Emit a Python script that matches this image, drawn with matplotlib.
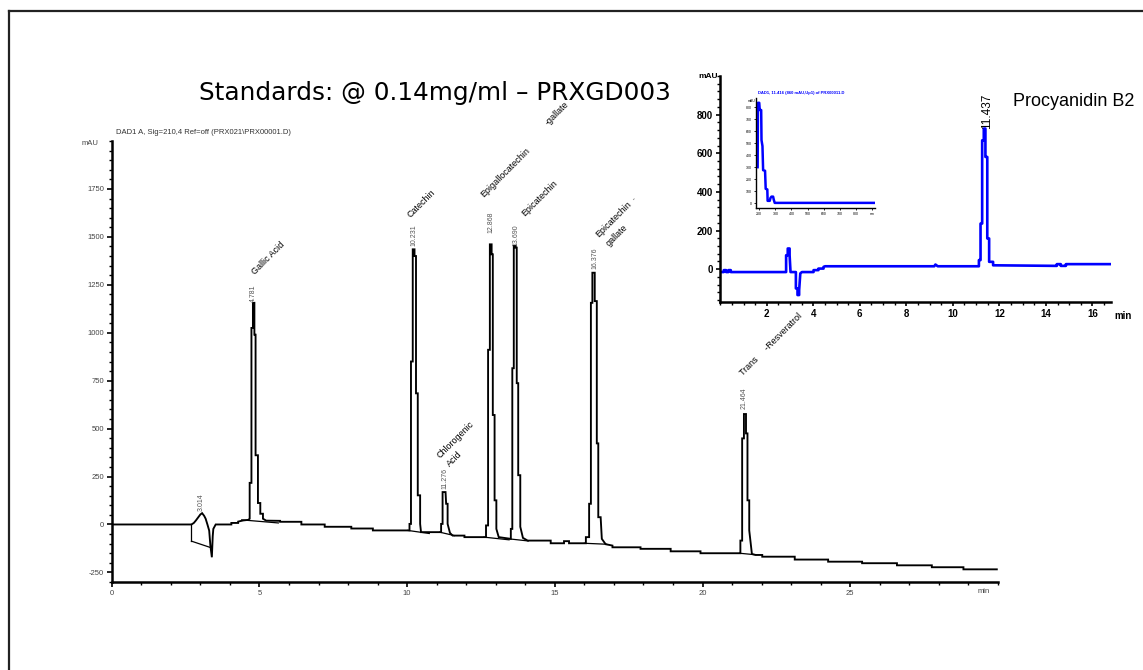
import matplotlib
matplotlib.use('Agg')
import matplotlib.pyplot as plt
from matplotlib.ticker import MultipleLocator, FixedLocator
from matplotlib.lines import Line2D

plt.rcParams['font.family'] = ['Liberation Sans', 'DejaVu Sans']
plt.rcParams['axes.unicode_minus'] = False

# ---------------- main chromatogram (DAD1 A, 210 nm) ----------------
main_time = [0, 2.70, 2.78, 2.85, 2.93, 3.00, 3.06, 3.13, 3.18, 3.24, 3.30, 3.34, 3.39, 3.42, 3.44, 3.52,
             4.05, 4.05, 4.28, 4.28, 4.45, 4.62,
             4.67, 4.67, 4.73, 4.73, 4.78, 4.78, 4.83, 4.83, 4.87, 4.87, 4.95, 4.95, 5.03, 5.03, 5.12, 5.12,
             5.23, 5.70, 5.70, 6.42, 6.42, 7.21, 7.21, 8.11, 8.11, 8.84, 8.84,
             10.08, 10.08, 10.13, 10.13, 10.19, 10.19, 10.25, 10.25, 10.30, 10.30, 10.36, 10.36, 10.44, 10.44, 10.47,
             11.15, 11.15, 11.20, 11.20, 11.30, 11.32, 11.37, 11.37, 11.45, 11.54, 11.94, 11.94,
             12.67, 12.67, 12.74, 12.74, 12.80, 12.80, 12.86, 12.86, 12.90, 12.90, 12.96, 12.96, 13.02, 13.02, 13.10,
             13.51, 13.51, 13.56, 13.56, 13.61, 13.61, 13.67, 13.67, 13.71, 13.71, 13.76, 13.76, 13.83, 13.83, 13.92,
             14.08, 14.86, 14.86, 15.31, 15.31, 15.48, 15.48, 16.05, 16.05, 16.16, 16.16, 16.22, 16.22, 16.27, 16.27,
             16.35, 16.35, 16.42, 16.42, 16.47, 16.47, 16.55, 16.59, 16.72, 16.95, 16.95, 17.90, 17.90, 18.92, 18.92,
             19.93, 19.93, 21.28, 21.28, 21.34, 21.34, 21.40, 21.40, 21.47, 21.47, 21.52, 21.52, 21.58, 21.58, 21.67,
             21.80, 22.02, 22.02, 23.12, 23.12, 24.25, 24.25, 25.40, 25.40, 26.58, 26.58, 27.76, 27.76, 28.83, 28.83,
             29.96]
main_mau = [0, 0, 8, 21, 38, 52, 59, 45, 30, 0, -32, -110, -171, -60, -23, 0,
            0, 8, 8, 15, 21, 24,
            30, 217, 217, 1025, 1025, 1156, 1156, 990, 990, 361, 361, 112, 112, 56, 56, 30,
            20, 19, 14, 14, 0, 0, -12, -12, -21, -21, -31,
            -31, 3, 3, 850, 850, 1435, 1435, 1400, 1400, 684, 684, 152, 152, 3, -40,
            -40, 3, 3, 169, 169, 108, 108, 3, -44, -58, -58, -66,
            -66, -5, -5, 911, 911, 1461, 1461, 1409, 1409, 571, 571, 126, 126, -23, -66,
            -75, -23, -23, 815, 815, 1453, 1453, 1444, 1444, 737, 737, 257, 257, -12, -70,
            -84, -84, -98, -98, -87, -87, -98, -98, -66, -66, 108, 108, 1156, 1156, 1313,
            1313, 1165, 1165, 423, 423, 38, 38, -75, -103, -110, -119, -119, -127, -127, -140,
            -140, -150, -150, -84, -84, 449, 449, 576, 576, 475, 475, 126, 126, -31, -154,
            -159, -159, -168, -168, -183, -183, -194, -194, -202, -202, -213, -213, -223, -223, -234,
            -234]

# integration baselines drawn by the data system
base_t0 = [2.70, 2.70, 4.40, 10.02, 11.10, 12.60, 13.45, 16.00, 21.25]
base_v0 = [0, -87, 24, -31, -40, -66, -75, -98, -150]
base_t1 = [2.70, 3.38, 5.64, 10.75, 11.60, 13.45, 14.10, 16.75, 21.80]
base_v1 = [-87, -122, 8, -47, -58, -80, -86, -103, -158]

# peak annotations
rt_labels = ['3.014', '4.781', '10.231', '11.276', '12.868', '13.690', '16.376', '21.464']
rt_x = [3.02, 4.81, 10.22, 11.28, 12.84, 13.70, 16.36, 21.42]
rt_y = [70, 1160, 1450, 185, 1520, 1450, 1330, 600]

name_labels = ['Gallic Acid', 'Catechin', 'Chlorogenic', 'Acid', 'Epigallocatechin', '-gallate',
               'Epicatechin', 'Epicatechin', 'gallate', 'Trans     -Resveratrol']
name_x = [4.91, 10.16, 11.17, 11.49, 12.65, 14.81, 14.02, 16.52, 16.89, 21.40]
name_y = [1294, 1592, 335, 293, 1697, 2074, 1601, 1488, 1444, 765]

main_yticks = [-250, 0, 250, 500, 750, 1000, 1250, 1500, 1750]
main_xticks = [0, 5, 10, 15, 20, 25]

# ---------------- inset chromatogram (Procyanidin B2) ----------------
ins_time = [0, 0.15, 0.15, 0.25, 0.25, 0.35, 0.35, 0.45, 0.45, 2.83, 2.83, 2.90, 2.90, 2.98, 2.98, 3.02,
            3.25, 3.25, 3.32, 3.32, 3.39, 3.39, 3.44, 3.51, 4.01, 4.01, 4.22, 4.22, 4.44, 4.44, 4.51,
            9.20, 9.25, 9.35, 10.91, 11.12, 11.12, 11.19, 11.19, 11.26, 11.26, 11.33, 11.33, 11.40, 11.40,
            11.48, 11.48, 11.56, 11.56, 11.73, 11.73, 14.47, 14.47, 14.64, 14.64, 14.86, 14.86, 15.00, 15.00,
            16.84]
ins_mau = [-15, -15, -5, -5, -15, -15, -5, -5, -15, -15, 72, 72, 107, 107, 72, -15,
           -15, -100, -100, -134, -134, -109, -22, -15, -15, -5, -5, 3, 3, 12, 15,
           15, 24, 15, 15, 15, 47, 47, 236, 236, 667, 667, 728, 728, 581,
           581, 159, 159, 38, 38, 20, 17, 26, 26, 17, 17, 26, 26, 26,
           26]
ins_yticks = [0, 200, 400, 600, 800]
ins_xticks = [2, 4, 6, 8, 10, 12, 14, 16]

# ---------------- UV spectrum of the peak ----------------
spec_nm = [190, 192, 200, 203, 212, 214, 220, 224, 236, 240, 250, 252, 265, 270, 276, 286, 290, 296, 915]
spec_mau = [300, 835, 835, 775, 775, 525, 475, 275, 270, 120, 115, 20, 20, 45, 55, 55, 30, 3, 3]
spec_yticks = [0, 100, 200, 300, 400, 500, 600, 700, 800]
spec_xticks = [200, 300, 400, 500, 600, 700, 800, 900]

# =====================================================================
W, H = 1143, 670
fig = plt.figure(figsize=(W / 100, H / 100), dpi=100)

# slide frame (top and left edges visible)
fig.add_artist(Line2D([9 / W, 1.0], [1 - 11 / H, 1 - 11 / H], transform=fig.transFigure, color='#222', lw=1.6))
fig.add_artist(Line2D([9 / W, 9 / W], [1 - 11 / H, 0.0], transform=fig.transFigure, color='#222', lw=1.6))

# main axes
ax = fig.add_axes([111.7 / W, 1 - 582 / H, (998 - 111.7) / W, (582 - 141) / H])
ax.plot(main_time, main_mau, color='black', lw=1.35, solid_joinstyle='miter')
for a, b, c, d in zip(base_t0, base_v0, base_t1, base_v1):
    ax.plot([a, c], [b, d], color='black', lw=0.9)
ax.set_xlim(0, 30)
ax.set_ylim(-300, 2000)
for s in ['top', 'right']:
    ax.spines[s].set_visible(False)
for s in ['left', 'bottom']:
    ax.spines[s].set_linewidth(1.8)
ax.yaxis.set_major_locator(FixedLocator(main_yticks))
ax.yaxis.set_minor_locator(MultipleLocator(50))
ax.xaxis.set_major_locator(FixedLocator(main_xticks))
ax.xaxis.set_minor_locator(MultipleLocator(1))
ax.tick_params(which='major', length=3.5, width=1.2, labelsize=5.5, labelcolor='#444', pad=2)
ax.tick_params(which='minor', length=2, width=1.0)
ax.text(29.5, -330, 'min', fontsize=5.5, color='#444', ha='center', va='top', clip_on=False)
ax.text(-0.45, 1985, 'mAU', fontsize=5.5, color='#444', ha='right', va='center', clip_on=False)
ax.text(0.15, 2045, 'DAD1 A, Sig=210,4 Ref=off (PRX021\\PRX00001.D)', fontsize=5.5, color='#333',
        ha='left', va='center', clip_on=False)
for lab, x, y in zip(rt_labels, rt_x, rt_y):
    ax.text(x, y, lab, rotation=90, fontsize=5, color='#555', ha='center', va='bottom', clip_on=False)
for lab, x, y in zip(name_labels, name_x, name_y):
    ax.text(x, y, lab, rotation=45, rotation_mode='anchor', fontsize=6.5, color='black',
            ha='left', va='bottom', clip_on=False)
ax.text(17.7, 1700, '-', rotation=45, fontsize=5, color='#333', ha='center', va='center')

fig.text(435 / W, 1 - 93 / H, 'Standards: @ 0.14mg/ml \u2013 PRXGD003', fontsize=17.8, ha='center', va='center',
         family=['DejaVu Sans'])

# inset axes
ax2 = fig.add_axes([720.3 / W, 1 - 302 / H, (1111 - 720.3) / W, (302 - 76) / H])
ax2.patch.set_alpha(0)
ax2.plot(ins_time, ins_mau, color='#0000FF', lw=1.9)
ax2.set_xlim(0, 16.8)
ax2.set_ylim(-170, 1000)
for s in ['top', 'right']:
    ax2.spines[s].set_visible(False)
for s in ['left', 'bottom']:
    ax2.spines[s].set_linewidth(1.8)
ax2.yaxis.set_major_locator(FixedLocator(ins_yticks))
ax2.yaxis.set_minor_locator(MultipleLocator(40))
ax2.xaxis.set_major_locator(FixedLocator(ins_xticks))
ax2.xaxis.set_minor_locator(MultipleLocator(0.5))
ax2.tick_params(which='major', length=3, width=1.2, labelsize=7, pad=2)
ax2.tick_params(which='minor', length=2, width=1.0)
for t in ax2.get_xticklabels() + ax2.get_yticklabels():
    t.set_fontweight('bold')
ax2.text(16.95, -215, 'min', fontsize=7, fontweight='bold', ha='left', va='top', clip_on=False)
ax2.text(-0.1, 1000, 'mAU', fontsize=6, fontweight='bold', ha='right', va='center', clip_on=False)
ax2.text(11.45, 817, '11.437', rotation=90, fontsize=8.5, ha='center', va='center')
fig.text(1013 / W, 1 - 101.7 / H, 'Procyanidin B2', fontsize=13, ha='left', va='center')

# spectrum sub-inset
ax3 = fig.add_axes([755.7 / W, 1 - 208.3 / H, (875 - 755.7) / W, (208.3 - 98) / H])
ax3.patch.set_alpha(0)
ax3.plot(spec_nm, spec_mau, color='#0000FF', lw=1.8)
ax3.set_xlim(178, 918)
ax3.set_ylim(-42, 875)
for s in ['top', 'right']:
    ax3.spines[s].set_visible(False)
for s in ['left', 'bottom']:
    ax3.spines[s].set_linewidth(1.0)
ax3.yaxis.set_major_locator(FixedLocator(spec_yticks))
ax3.xaxis.set_major_locator(FixedLocator(spec_xticks))
ax3.set_xticklabels([str(v) for v in spec_xticks[:-1]] + ['nm'])
ax3.tick_params(which='major', length=1.5, width=0.6, labelsize=2.5, pad=1)
ax3.text(175, 850, 'mAU', fontsize=2.5, ha='right', va='center', clip_on=False)
ax3.text(190, 915, 'DAD1, 11.416 (860 mAU,Up1) of PRX00011.D', fontsize=3, color='#0000FF',
         fontweight='bold', ha='left', va='center', clip_on=False)

fig.savefig('out.png', dpi=100)
